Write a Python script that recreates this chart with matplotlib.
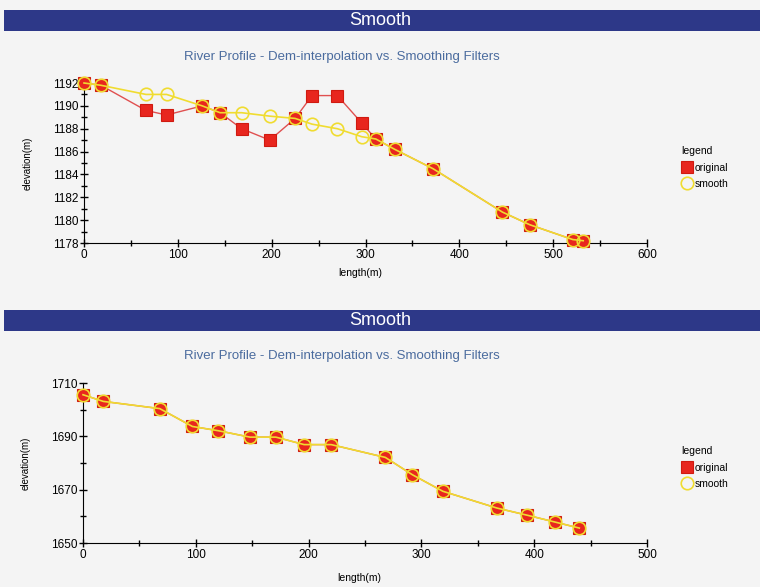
import matplotlib
matplotlib.use('Agg')
import matplotlib.pyplot as plt
from matplotlib.patches import Rectangle
from matplotlib.ticker import MultipleLocator

# top profile: original DEM samples vs smoothed values
len_top = [0, 18, 66, 88, 126, 145, 168, 198, 225, 243, 270, 296, 311, 331, 372, 446, 475, 521, 532]
orig_top = [1192.0, 1191.8, 1189.6, 1189.2, 1190.0, 1189.4, 1188.0, 1187.0, 1188.9, 1190.9,
            1190.9, 1188.5, 1187.1, 1186.2, 1184.5, 1180.7, 1179.6, 1178.3, 1178.2]
smooth_top = [1192.0, 1191.8, 1191.0, 1191.0, 1190.0, 1189.4, 1189.4, 1189.1, 1188.9, 1188.4,
              1188.0, 1187.3, 1187.1, 1186.2, 1184.5, 1180.7, 1179.6, 1178.3, 1178.2]

# bottom profile: smoothing leaves the values unchanged
len_bot = [0, 18, 68, 97, 120, 148, 171, 196, 220, 268, 292, 319, 367, 394, 418, 440]
orig_bot = [1705.6, 1703.1, 1700.4, 1693.7, 1692.1, 1689.7, 1689.7, 1686.9, 1686.9,
            1682.1, 1675.6, 1669.4, 1663.1, 1660.4, 1657.9, 1655.6]
smooth_bot = list(orig_bot)

banner_text = 'Smooth'
title_text = 'River Profile - Dem-interpolation vs. Smoothing Filters'

bg = '#f4f4f4'
navy = '#2d3888'
title_col = '#4a6b9e'
red = '#e8261e'
yellow = '#f0dc30'

plt.rcParams['font.family'] = ['Liberation Sans', 'DejaVu Sans']

fig = plt.figure(figsize=(7.6, 5.87), dpi=100, facecolor=bg)


def banner(y0, y1, title_y):
    fig.patches.append(Rectangle((4 / 760, 1 - y1 / 587), 756 / 760, (y1 - y0) / 587,
                                 transform=fig.transFigure, facecolor=navy,
                                 edgecolor='none', zorder=0))
    fig.text(0.5, 1 - (y0 + y1) / 2 / 587, banner_text, color='white', fontsize=13,
             ha='center', va='center')
    fig.text(342 / 760, 1 - title_y / 587, title_text, color=title_col, fontsize=9.5,
             ha='center', va='center')


def profile(rect, x, y_orig, y_smooth, xlim, ylim, ymaj, ymin, xlab_y, leg_y):
    ax = fig.add_axes(rect)
    ax.set_facecolor('none')
    ax.plot(x, y_orig, color='#e05050', lw=1, marker='s', ms=9, mfc=red,
            mec='#d01a10', mew=0.8, label='original', clip_on=False, zorder=3)
    ax.plot(x, y_smooth, color=yellow, lw=1.2, marker='o', ms=9, mfc='none',
            mec=yellow, mew=1.2, label='smooth', clip_on=False, zorder=4)
    ax.set_xlim(*xlim)
    ax.set_ylim(*ylim)
    ax.xaxis.set_major_locator(MultipleLocator(100))
    ax.xaxis.set_minor_locator(MultipleLocator(50))
    # ticks are anchored at the lower limit (1650, 1670, ... on the bottom chart)
    ax.yaxis.set_major_locator(MultipleLocator(ymaj, offset=ylim[0] % ymaj))
    ax.yaxis.set_minor_locator(MultipleLocator(ymin))
    for s in ['top', 'right']:
        ax.spines[s].set_visible(False)
    ax.tick_params(which='major', direction='inout', length=6, width=1, labelsize=8.5, pad=1)
    ax.tick_params(which='minor', direction='inout', length=4, width=1)
    ax.set_xlabel('length(m)', fontsize=7.5)
    ax.xaxis.set_label_coords(0.49, xlab_y)
    ax.set_ylabel('elevation(m)', fontsize=7)
    ax.yaxis.set_label_coords(-0.092, 0.5)
    leg = ax.legend(loc='upper left', bbox_to_anchor=(672 / 760, 1 - leg_y / 587),
                    bbox_transform=fig.transFigure, title='legend', frameon=False,
                    fontsize=7.5, title_fontsize=7.5, handlelength=1.0,
                    handletextpad=0.3, labelspacing=0.6, alignment='left')
    for h in leg.legend_handles:
        h.set_linestyle('none')
    return ax


banner(10, 31, 57)
profile([84 / 760, 1 - 243 / 587, 563 / 760, 160 / 587], len_top, orig_top, smooth_top,
        (0, 600), (1178, 1192), 2, 1, -0.156, 137)

banner(310, 331, 356)
profile([83 / 760, 1 - 543 / 587, 564 / 760, 160 / 587], len_bot, orig_bot, smooth_bot,
        (0, 500), (1650, 1710), 20, 10, -0.186, 437)

fig.savefig('out.png', dpi=100, facecolor=bg)
